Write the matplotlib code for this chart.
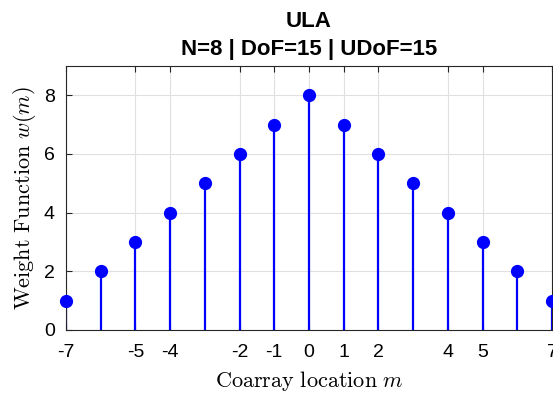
import matplotlib
matplotlib.use('Agg')
import matplotlib.pyplot as plt

# coarray lags and weight function of an 8-element ULA
lags = [-7, -6, -5, -4, -3, -2, -1, 0, 1, 2, 3, 4, 5, 6, 7]
weights = [1, 2, 3, 4, 5, 6, 7, 8, 7, 6, 5, 4, 3, 2, 1]
xticks = [-7, -5, -4, -2, -1, 0, 1, 2, 4, 5, 7]
yticks = [0, 2, 4, 6, 8]

plt.rcParams['font.family'] = ['Liberation Sans', 'DejaVu Sans']
plt.rcParams['mathtext.fontset'] = 'cm'

fig = plt.figure(figsize=(5.53, 3.94), dpi=100)
ax = fig.add_axes([66 / 553, 64 / 394, 486 / 553, 264 / 394])

markerline, stemlines, baseline = ax.stem(lags, weights, basefmt=' ')
plt.setp(stemlines, color='#0000ff', linewidth=1.6)
plt.setp(markerline, color='#0000ff', markersize=8.5, clip_on=False, zorder=3)

ax.set_xlim(-7, 7)
ax.set_ylim(0, 9)
ax.set_xticks(xticks)
ax.set_xticklabels([str(t) for t in xticks])
ax.set_yticks(yticks)
ax.tick_params(labelsize=14, direction='in', length=4, color='#262626',
               top=True, right=False)
ax.tick_params(axis='x', pad=10)
ax.tick_params(axis='y', pad=8)
ax.grid(True, color='#e0e0e0', linewidth=0.8)
ax.set_axisbelow(True)
for s in ax.spines.values():
    s.set_color('#262626')
    s.set_linewidth(0.8)

ax.set_xlabel(r'$\mathrm{Coarray\ location}\ m$', fontsize=16, labelpad=6)
ax.set_ylabel(r'$\mathrm{Weight\ Function}\ w(m)$', fontsize=16, labelpad=4)
ax.set_title('ULA\nN=8 | DoF=15 | UDoF=15', fontsize=16, fontweight='bold',
             linespacing=1.4, pad=8)

fig.savefig('out.png', dpi=100)
